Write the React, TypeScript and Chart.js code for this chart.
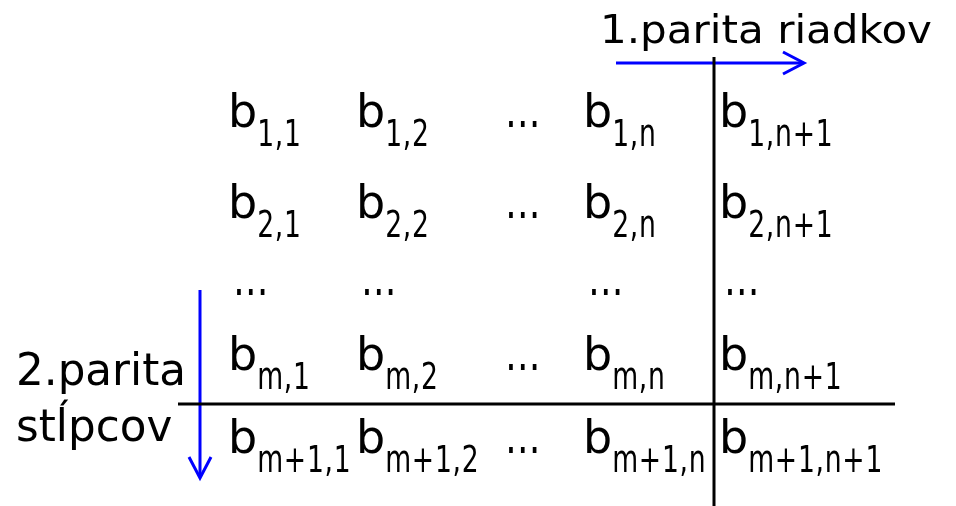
import React, { useEffect, useRef } from "react";
import { Chart, registerables } from "chart.js";

Chart.register(...registerables);

// ---- content ----
const rowKeys = ["1", "2", "…", "m", "m+1"];
const colKeys = ["1", "2", "…", "n", "n+1"];
const titleRow = "1.parita riadkov";
const titleCol = ["2.parita", "stĺpcov"];

// ---- layout (axis units = canvas pixels) ----
const colX = [232, 360, 510, 587, 723];
const rowY = [127, 218, 295, 370, 453];
const dotsRowOffset = 6;
const subDrop = 19;
const vLine = { x: [714, 714], y: [57, 506] };
const hLine = { x: [178, 895], y: [404, 404] };
const rowArrow = { x: [616, 803], y: [63, 63] };
const rowHead = { x: [783, 804, 783], y: [52, 63, 74] };
const colArrow = { x: [200, 200], y: [290, 477] };
const colHead = { x: [189, 200, 211], y: [457, 478, 457] };
const titleRowPos = { x: 600, y: 43, w: 332 };
const titleColPos = { x: 16, y: [385, 441] };

const FONT = '"DejaVu Sans", sans-serif';
const BLUE = "#0000ff";

function pts(o: { x: number[]; y: number[] }) {
  return o.x.map((x, i) => ({ x, y: o.y[i] }));
}

function drawScaled(
  ctx: CanvasRenderingContext2D,
  text: string,
  x: number,
  y: number,
  font: string,
  sx: number,
  spacing = 0
) {
  ctx.save();
  ctx.font = font;
  (ctx as any).letterSpacing = `${spacing}px`;
  ctx.translate(x, y);
  ctx.scale(sx, 1);
  ctx.fillText(text, 0, 0);
  ctx.restore();
}

const textPlugin = {
  id: "matrixText",
  afterDatasetsDraw(chart: any) {
    const ctx: CanvasRenderingContext2D = chart.ctx;
    const xs = chart.scales.x;
    const ys = chart.scales.y;
    ctx.save();
    ctx.fillStyle = "#000";
    ctx.textBaseline = "alphabetic";
    ctx.textAlign = "left";
    const mainFont = `46px ${FONT}`;
    const subFont = `37px ${FONT}`;
    const dotsFont = `48px ${FONT}`;
    ctx.font = mainFont;
    const bAdv = ctx.measureText("b").width;
    rowKeys.forEach((r, ri) => {
      colKeys.forEach((c, ci) => {
        const isDotRow = r === "…";
        const isDotCol = c === "…";
        let px = xs.getPixelForValue(colX[ci]);
        const py = ys.getPixelForValue(rowY[ri]);
        if (isDotRow && isDotCol) return;
        if (isDotRow || isDotCol) {
          if (isDotRow) px += dotsRowOffset;
          drawScaled(ctx, "…", px - 5, py, dotsFont, 0.74);
          return;
        }
        drawScaled(ctx, "b", px - 4, py, mainFont, 1);
        drawScaled(ctx, `${r},${c}`, px - 4 + bAdv, py + subDrop, subFont, 0.72, 1);
      });
    });
    // title row
    const tf = `39px ${FONT}`;
    ctx.font = tf;
    (ctx as any).letterSpacing = "0px";
    const tw = ctx.measureText(titleRow).width;
    drawScaled(ctx, titleRow, xs.getPixelForValue(titleRowPos.x), ys.getPixelForValue(titleRowPos.y), tf, titleRowPos.w / tw);
    // title col
    const cf = `45px ${FONT}`;
    titleCol.forEach((t, i) => {
      drawScaled(ctx, t, xs.getPixelForValue(titleColPos.x), ys.getPixelForValue(titleColPos.y[i]), cf, 0.97);
    });
    ctx.restore();
  },
};

export default function App() {
  const ref = useRef<HTMLCanvasElement>(null);
  useEffect(() => {
    document.body.style.margin = "0";
    const canvas = ref.current!;
    const lineDs = (o: any, color: string) => ({
      data: pts(o),
      showLine: true,
      borderColor: color,
      borderWidth: 3,
      pointRadius: 0,
      fill: false,
      tension: 0,
      borderCapStyle: "butt",
      borderJoinStyle: "miter",
    });
    const chart = new Chart(canvas, {
      type: "scatter",
      data: {
        datasets: [
          lineDs(vLine, "#000"),
          lineDs(hLine, "#000"),
          lineDs(rowArrow, BLUE),
          lineDs(rowHead, BLUE),
          lineDs(colArrow, BLUE),
          lineDs(colHead, BLUE),
        ] as any,
      },
      options: {
        animation: false,
        responsive: false,
        maintainAspectRatio: false,
        layout: { padding: 0 },
        plugins: { legend: { display: false }, tooltip: { enabled: false }, title: { display: false } },
        scales: {
          x: { type: "linear", min: 0, max: 956, display: false },
          y: { type: "linear", min: 0, max: 506, reverse: true, display: false },
        },
      },
      plugins: [textPlugin],
    });
    return () => chart.destroy();
  }, []);
  return (
    <div style={{ width: 956, height: 506, background: "#fff" }}>
      <canvas ref={ref} width={956} height={506} style={{ display: "block" }} />
    </div>
  );
}
